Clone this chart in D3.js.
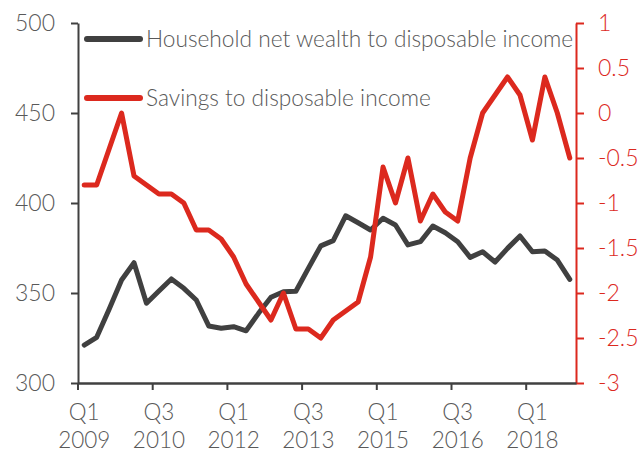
<!DOCTYPE html>
<html>
<head>
<meta charset="utf-8">
<script src="https://cdn.jsdelivr.net/npm/d3@7"></script>
<style>
  body { margin: 0; background: #fff; }
  text { font-family: Lato, "Open Sans", sans-serif; font-weight: 300; }
</style>
</head>
<body>
<div id="chart-area"></div>
<script>
// quarters Q1 2009 .. Q4 2018
const startYear = 2009;
const quarters = d3.range(40).map(function(i){
    return "Q" + (i % 4 + 1) + " " + (startYear + Math.floor(i / 4));
});
// every 6th quarter gets a label
const labelledQuarters = quarters.filter(function(d, i){ return i % 6 === 0; });

const wealth = [321.1, 325.4, 341, 357.2, 366.8, 344.3, 351.1, 357.8, 352.6, 346.1,
    331.7, 330.4, 331.3, 329, 338.7, 347.6, 350.7, 351, 363.7, 376.2,
    379.1, 392.9, 389, 385, 391.5, 387.8, 376.7, 378.5, 387.2, 383.5,
    378.5, 369.8, 372.9, 367.2, 374.8, 381.7, 372.9, 373.3, 368.3, 357.6];

const savings = [-0.8, -0.8, -0.4, 0, -0.7, -0.8, -0.9, -0.9, -1.0, -1.3,
    -1.3, -1.4, -1.6, -1.9, -2.1, -2.3, -2.0, -2.4, -2.4, -2.5,
    -2.3, -2.2, -2.1, -1.6, -0.6, -1.0, -0.5, -1.2, -0.9, -1.1,
    -1.2, -0.5, 0, 0.2, 0.4, 0.2, -0.3, 0.4, 0, -0.5];

const leftTicks = [300, 350, 400, 450, 500];
const rightTicks = [-3, -2.5, -2, -1.5, -1, -0.5, 0, 0.5, 1];

const seriesNames = ["Household net wealth to disposable income", "Savings to disposable income"];

const dark = "#404040", red = "#dc291e", textGray = "#595959";

const W = 639, H = 452;
const plot = {left: 78, right: 576, top: 23, bottom: 383};

const svg = d3.select("#chart-area").append("svg")
    .attr("width", W)
    .attr("height", H);

// Scales
const x = d3.scaleBand().domain(quarters).range([plot.left, plot.right]).padding(0);
const yL = d3.scaleLinear().domain([300, 500]).range([plot.bottom, plot.top]);
const yR = d3.scaleLinear().domain([-3, 1]).range([plot.bottom, plot.top]);
const half = x.bandwidth() / 2;

// Left axis
const leftAxis = svg.append("g")
    .attr("transform", "translate(" + plot.left + ",0)")
    .call(d3.axisLeft(yL).tickValues(leftTicks).tickSize(7).tickSizeOuter(0).tickPadding(16));
leftAxis.select(".domain").attr("stroke", dark).attr("stroke-width", 2);
leftAxis.selectAll(".tick line").attr("stroke", dark).attr("stroke-width", 2);
leftAxis.selectAll(".tick text").attr("fill", textGray).attr("font-size", "23px");

// Right axis
const rightAxis = svg.append("g")
    .attr("transform", "translate(" + plot.right + ",0)")
    .call(d3.axisRight(yR).tickValues(rightTicks).tickSize(8).tickSizeOuter(0).tickPadding(14)
        .tickFormat(function(d){ return d3.format("")(d).replace("−", "-"); }));
rightAxis.select(".domain").attr("stroke", red).attr("stroke-width", 2);
rightAxis.selectAll(".tick line").attr("stroke", red).attr("stroke-width", 2);
rightAxis.selectAll(".tick text").attr("fill", red).attr("font-size", "23px");

// Bottom axis
const bottomAxis = svg.append("g")
    .attr("transform", "translate(0," + plot.bottom + ")")
    .call(d3.axisBottom(x).tickValues(labelledQuarters).tickSize(7).tickSizeOuter(0));
bottomAxis.select(".domain").attr("stroke", dark).attr("stroke-width", 2.5);
bottomAxis.selectAll(".tick line")
    .attr("stroke", dark).attr("stroke-width", 2)
    .attr("x1", -half).attr("x2", -half);
bottomAxis.selectAll(".tick text").remove();
bottomAxis.selectAll(".tick").each(function(d){
    const parts = d.split(" ");
    const t = d3.select(this).append("text")
        .attr("fill", textGray)
        .attr("font-size", "22.5px")
        .attr("text-anchor", "middle");
    t.append("tspan").attr("x", 0).attr("y", 37).text(parts[0]);
    t.append("tspan").attr("x", 0).attr("y", 65).text(parts[1]);
});

// Lines
const wealthLine = d3.line()
    .x(function(d, i){ return x(quarters[i]) + half; })
    .y(function(d){ return yL(d); });
const savingsLine = d3.line()
    .x(function(d, i){ return x(quarters[i]) + half; })
    .y(function(d){ return yR(d); });

svg.append("path")
    .datum(wealth)
    .attr("d", wealthLine)
    .attr("fill", "none")
    .attr("stroke", dark)
    .attr("stroke-width", 5)
    .attr("stroke-linejoin", "round")
    .attr("stroke-linecap", "round");

svg.append("path")
    .datum(savings)
    .attr("d", savingsLine)
    .attr("fill", "none")
    .attr("stroke", red)
    .attr("stroke-width", 5)
    .attr("stroke-linejoin", "round")
    .attr("stroke-linecap", "round");

// Legend
const legend = svg.append("g");
[dark, red].forEach(function(c, i){
    const ly = 39 + i * 59;
    legend.append("line")
        .attr("x1", 87).attr("x2", 140)
        .attr("y1", ly).attr("y2", ly)
        .attr("stroke", c).attr("stroke-width", 6)
        .attr("stroke-linecap", "round");
    legend.append("text")
        .attr("x", 146).attr("y", ly + 8)
        .attr("fill", textGray)
        .attr("font-size", "22.7px")
        .text(seriesNames[i]);
});
</script>
</body>
</html>
